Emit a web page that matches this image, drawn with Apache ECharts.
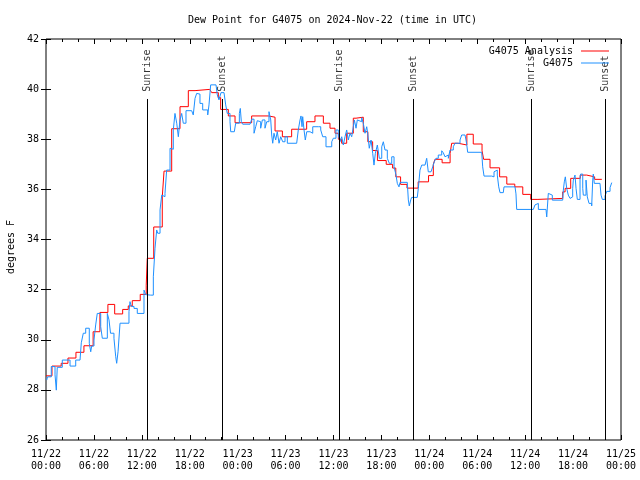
<!DOCTYPE html>
<html>
<head>
<meta charset="utf-8">
<script src="https://cdn.jsdelivr.net/npm/echarts@6/dist/echarts.min.js"></script>
<style>html,body{margin:0;padding:0;background:#fff}#c{width:640px;height:480px}</style>
</head>
<body>
<div id="c"></div>
<script>
// hours since 2024-11-22 00:00 UTC
const analysisHours = [0,0.75,1.9,2.75,3.75,4.75,5.9,6.75,7.75,8.6,9.6,10.3,10.8,11.8,12.55,12.68,13.49,14.56,14.78,15.74,16.78,17.82,18.66,20.5,20.75,21.58,21.87,22.83,23.67,25.75,27.84,28.68,29.6,30.76,32.64,33.68,34.73,35.56,36.19,36.61,37.02,37.65,38.48,38.82,39.73,40.3,40.9,41.5,42.6,43.4,43.8,44.4,45.2,46.6,47.9,48.5,48.7,49.6,50.6,50.8,51.6,52.7,53.5,54.6,54.8,55.6,56.8,57.7,58.7,59.7,60.7,61.6,64.7,65.0,65.7,66.9,67.7,68.7,69.6];
const analysisValues = [28.56,28.95,29.06,29.27,29.5,29.76,30.32,31.09,31.41,31.03,31.21,31.35,31.56,31.81,32.18,33.25,34.5,35.7,36.73,38.42,39.3,39.94,39.99,39.94,39.86,39.66,39.19,38.93,38.66,38.93,38.88,38.33,38.1,38.4,38.7,38.93,38.64,38.44,38.24,38.0,37.84,38.24,38.84,38.88,38.3,37.9,37.55,37.15,37.0,36.85,36.5,36.2,36.05,36.3,36.55,37.0,37.2,37.06,37.44,37.84,37.77,38.2,37.81,37.54,37.2,36.86,36.5,36.21,36.1,35.8,35.6,35.64,35.9,36.04,36.44,36.57,36.5,36.4,36.4];

const stationHours = [0.09,0.19,0.66,1.13,1.29,1.41,2.04,3.01,3.72,4.26,4.42,4.67,4.97,5.42,5.60,5.72,6.01,6.22,6.42,6.85,7.05,7.68,7.89,8.08,8.51,8.73,8.85,9.02,9.27,10.39,10.52,10.68,11.02,11.43,12.27,12.48,12.61,13.11,13.44,13.65,13.86,13.99,14.28,14.49,14.56,14.90,15.11,15.53,15.74,15.94,16.15,16.37,16.57,16.78,16.99,17.19,17.53,18.24,18.44,18.66,18.87,19.07,19.28,19.62,19.91,20.25,20.41,20.62,21.29,21.45,21.66,21.91,22.29,22.50,22.70,23.04,23.13,23.58,23.75,24.21,24.33,24.46,24.63,25.55,25.76,25.96,26.05,26.26,26.46,26.71,26.88,27.09,27.42,27.64,27.92,28.14,28.26,28.39,28.55,28.76,28.96,29.18,29.39,29.64,29.93,30.22,31.39,31.59,31.81,31.93,32.06,32.14,32.31,32.47,32.65,33.06,33.40,34.10,34.40,34.65,35.06,35.78,35.98,36.31,36.60,36.81,37.03,37.23,37.44,37.65,37.85,38.07,38.28,38.48,38.61,38.82,38.98,39.23,39.53,39.73,39.95,40.16,40.28,40.48,40.70,40.91,41.07,41.24,41.49,41.74,42.04,42.24,42.45,42.74,42.99,43.29,43.58,43.83,43.99,44.20,44.33,45.24,45.37,45.49,45.67,45.79,46.49,46.62,46.83,47.05,47.46,47.67,47.87,48.21,48.42,48.62,48.84,49.12,49.55,49.75,49.96,50.18,50.38,50.59,51.00,51.21,51.84,52.05,52.47,52.59,52.68,52.80,54.56,54.68,54.85,55.81,56.10,56.35,56.51,56.69,56.85,57.26,57.35,58.73,58.85,58.94,61.02,61.23,61.45,61.65,62.61,62.70,62.90,63.11,63.40,64.70,64.78,64.90,65.03,65.20,65.40,65.62,65.83,65.95,66.03,66.24,66.37,66.53,66.74,66.87,66.95,67.21,67.28,67.62,67.78,68.00,68.33,68.46,68.53,68.66,69.37,69.50,69.66,69.87,70.00,70.21,70.63,70.84];
const stationValues = [28.39,28.52,28.93,28.6,27.99,28.9,29.19,28.95,29.19,29.22,29.88,30.26,30.46,29.86,29.52,29.75,29.99,30.59,31.05,30.52,30.06,31.05,30.79,30.26,30.06,29.32,29.06,29.52,30.66,31.12,31.52,31.33,31.25,31.05,31.98,31.8,31.78,31.78,32.51,33.65,34.38,34.25,35.18,35.77,35.71,35.84,36.77,37.64,37.6,38.37,39.03,38.64,38.1,38.77,39.03,38.64,39.14,39.14,38.97,39.63,39.83,39.8,39.43,39.17,39.17,38.97,39.37,40.17,40.17,39.77,39.57,39.86,39.8,39.37,39.03,38.7,38.3,38.3,38.64,39.03,39.23,38.7,38.6,38.6,38.8,38.8,38.24,38.5,38.74,38.7,38.44,38.77,38.44,38.7,39.1,38.77,38.17,37.84,38.24,37.97,38.3,37.84,38.1,37.9,38.1,37.84,37.84,38.37,38.77,38.93,38.5,38.9,38.37,37.97,38.3,38.24,38.5,38.5,38.37,38.1,37.7,37.9,38.04,38.37,38.17,37.9,38.1,37.77,38.1,38.37,37.97,38.24,38.1,38.5,38.77,38.44,38.77,38.7,38.86,38.64,38.24,38.5,38.24,37.64,37.97,37.44,36.97,37.44,37.77,37.24,37.7,37.9,37.57,37.24,37.04,37.3,36.9,36.57,36.24,36.1,36.28,36.28,35.58,35.34,35.58,35.68,35.68,36.04,36.77,36.97,36.97,37.24,36.7,36.7,36.9,37.1,37.24,37.37,37.54,37.46,37.3,37.37,37.24,37.57,37.7,37.84,37.97,38.17,38.2,37.97,37.8,37.48,37.48,36.9,36.53,36.5,36.7,36.77,36.57,36.1,35.87,35.87,36.1,36.1,35.82,35.2,35.2,35.38,35.44,35.2,35.2,34.9,35.84,35.77,35.57,35.57,35.97,36.3,36.5,36.04,35.77,35.64,35.7,36.04,36.37,36.57,36.04,35.6,35.6,36.5,36.61,36.04,35.77,36.37,35.7,35.44,35.34,36.37,36.61,36.24,36.24,35.77,35.6,35.6,35.74,35.92,36.07,36.27];

const sunEventHours = [12.66, 22.05, 36.72, 45.99, 60.77, 70.03];
const sunEventNames = ['Sunrise','Sunset','Sunrise','Sunset','Sunrise','Sunset'];

const xTickLabels = ['11/22\n00:00','11/22\n06:00','11/22\n12:00','11/22\n18:00','11/23\n00:00','11/23\n06:00','11/23\n12:00','11/23\n18:00','11/24\n00:00','11/24\n06:00','11/24\n12:00','11/24\n18:00','11/25\n00:00'];

const FONT = '"DejaVu Sans Mono", "Liberation Mono", monospace';
const zip = (a, b) => a.map((v, i) => [v, b[i]]);

const chart = echarts.init(document.getElementById('c'), null, {renderer: 'canvas'});
const baseX = {
  type: 'value', min: 0, max: 72, interval: 6,
  axisLine: {show: false},
  splitLine: {show: false},
  axisTick: {show: true, inside: true, length: 5, lineStyle: {color: '#000'}},
  minorTick: {show: true, splitNumber: 3, length: 3, lineStyle: {color: '#000'}},
  minorSplitLine: {show: false}
};
const baseY = {
  type: 'value', min: 26, max: 42, interval: 2,
  axisLine: {show: false},
  splitLine: {show: false},
  axisTick: {show: true, inside: true, length: 5, lineStyle: {color: '#000'}}
};
chart.setOption({
  animation: false,
  backgroundColor: '#fff',
  title: {
    text: 'Dew Point for G4075 on 2024-Nov-22 (time in UTC)',
    left: 188, top: 15, padding: 0,
    textStyle: {fontFamily: FONT, fontSize: 10, fontWeight: 'normal', color: '#000'}
  },
  grid: {left: 46, right: 19, top: 39, bottom: 40, show: true, borderColor: '#000', borderWidth: 1, backgroundColor: 'transparent'},
  legend: [
    {data: ['G4075 Analysis'], right: 31, top: 46, align: 'right', padding: 0, itemWidth: 28, itemHeight: 1, icon: 'rect',
     textStyle: {fontFamily: FONT, fontSize: 10, color: '#000', padding: [0, 3, 0, 0]}},
    {data: ['G4075'], right: 31, top: 58, align: 'right', padding: 0, itemWidth: 28, itemHeight: 1, icon: 'rect',
     textStyle: {fontFamily: FONT, fontSize: 10, color: '#000', padding: [0, 3, 0, 0]}}
  ],
  xAxis: [
    Object.assign({}, baseX, {
      position: 'bottom',
      axisLabel: {show: true, margin: 8, color: '#000', fontFamily: FONT, fontSize: 10, lineHeight: 12,
        formatter: v => xTickLabels[Math.round(v / 6)]}
    }),
    Object.assign({}, baseX, {position: 'top', axisLabel: {show: false}})
  ],
  yAxis: [
    Object.assign({}, baseY, {
      position: 'left',
      axisLabel: {show: true, margin: 7, color: '#000', fontFamily: FONT, fontSize: 10}
    }),
    Object.assign({}, baseY, {position: 'right', axisLabel: {show: false}})
  ],
  graphic: [{
    type: 'text', x: 11, y: 247, rotation: Math.PI / 2,
    style: {text: 'degrees F', font: '10px ' + FONT, fill: '#000', align: 'center', verticalAlign: 'middle'}
  }],
  series: [
    {
      name: 'G4075 Analysis', type: 'line', step: 'end', showSymbol: false, symbol: 'none',
      data: zip(analysisHours, analysisValues),
      lineStyle: {color: '#ff0000', width: 1}, itemStyle: {color: '#ff0000'}
    },
    {
      name: 'G4075', type: 'line', step: 'end', showSymbol: false, symbol: 'none',
      data: zip(stationHours, stationValues),
      lineStyle: {color: '#1e90ff', width: 1}, itemStyle: {color: '#1e90ff'}
    },
    {
      name: 'sun', type: 'scatter', symbolSize: 0.1, silent: true,
      itemStyle: {color: 'rgba(0,0,0,0)'},
      data: sunEventHours.map((h, i) => ({value: [h, 39.897], name: sunEventNames[i]})),
      label: {show: true, formatter: '{b}', position: 'inside', rotate: 90, align: 'left', verticalAlign: 'middle',
        padding: [4, 0, 0, 0], fontFamily: FONT, fontSize: 10, color: '#000'},
      markLine: {
        silent: true, symbol: ['none', 'none'],
        lineStyle: {color: '#000', width: 1, type: 'solid'},
        label: {show: false},
        data: sunEventHours.map(h => [{coord: [h, 26]}, {coord: [h, 39.606]}])
      }
    }
  ]
});
</script>
</body>
</html>
